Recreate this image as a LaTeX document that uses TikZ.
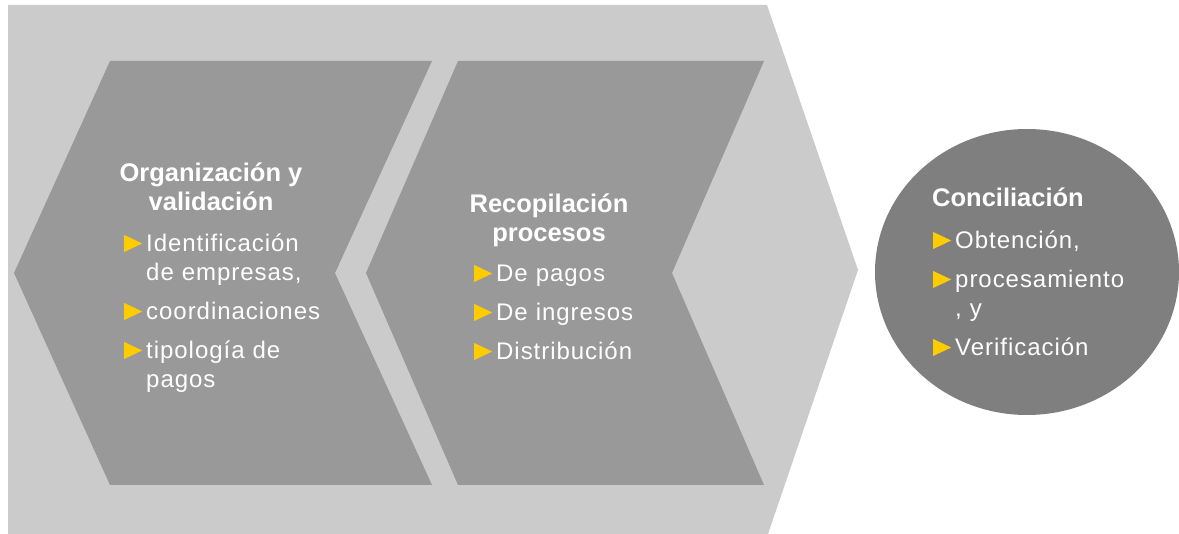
\documentclass[tikz,border=0pt]{standalone}
\usepackage{fontspec}
\setmainfont{Liberation Sans}
\usepackage{tikz}
\usetikzlibrary{positioning}

\definecolor{panel}{HTML}{CBCBCB}
\definecolor{chevron}{HTML}{999999}
\definecolor{disc}{HTML}{7F7F7F}
\definecolor{pointer}{HTML}{FFCC00}

\newcommand{\pnt}{\makebox[23pt][l]{\hspace{1pt}\tikz[baseline=0pt]\fill[pointer] (0pt,0pt) -- (0pt,17pt) -- (18pt,8.5pt) -- cycle;}}
\newcommand{\itm}{\par\noindent\hangindent=23pt\hangafter=1\pnt}
\newcommand{\nl}{\unskip\nobreak\hfil\break}

\tikzset{
	head/.style={text=white,inner sep=0pt,align=center,
		font=\fontsize{25.5}{29}\selectfont\bfseries},
	items/.style={text=white,inner sep=0pt,anchor=base west,text width=#1,align=left,
		font=\fontsize{24}{29}\selectfont\addfontfeatures{LetterSpace=4}},
}

\begin{document}
\begin{tikzpicture}[x=1pt,y=-1pt]
	\useasboundingbox (0,0) rectangle (1179,534);
	\fill[panel] (8,5) -- (767,5) -- (858,270) -- (768,534) -- (8,534) -- cycle;
	\fill[chevron] (110,61) -- (432,61) -- (335,273) -- (432,485) -- (110,485) -- (14,273) -- cycle;
	\fill[chevron] (458,61) -- (764,61) -- (672,273) -- (764,485) -- (458,485) -- (366,273) -- cycle;
	\fill[disc] (1027,272) ellipse [x radius=152pt, y radius=143pt];

	\node[head,anchor=base] (orghead) at (211,211) {Organización y\\validación};
	\node[items=210pt] (orglist) at (123,213) {\setlength{\parskip}{10pt}%
		\itm Identificación\nl de empresas,
		\itm coordinaciones
		\itm tipología de\nl pagos\par};

	\node[head,anchor=base] (rechead) at (549,242) {Recopilación\\procesos};
	\node[items=200pt] (reclist) at (473,243) {\setlength{\parskip}{10pt}%
		\itm De pagos
		\itm De ingresos
		\itm Distribución\par};

	\node[head,anchor=base west] (conhead) at (932,207) {Conciliación};
	\node[items=220pt] (conlist) at (932,210) {\setlength{\parskip}{10pt}%
		\itm Obtención,
		\itm procesamiento\nl , y
		\itm Verificación\par};
\end{tikzpicture}
\end{document}
